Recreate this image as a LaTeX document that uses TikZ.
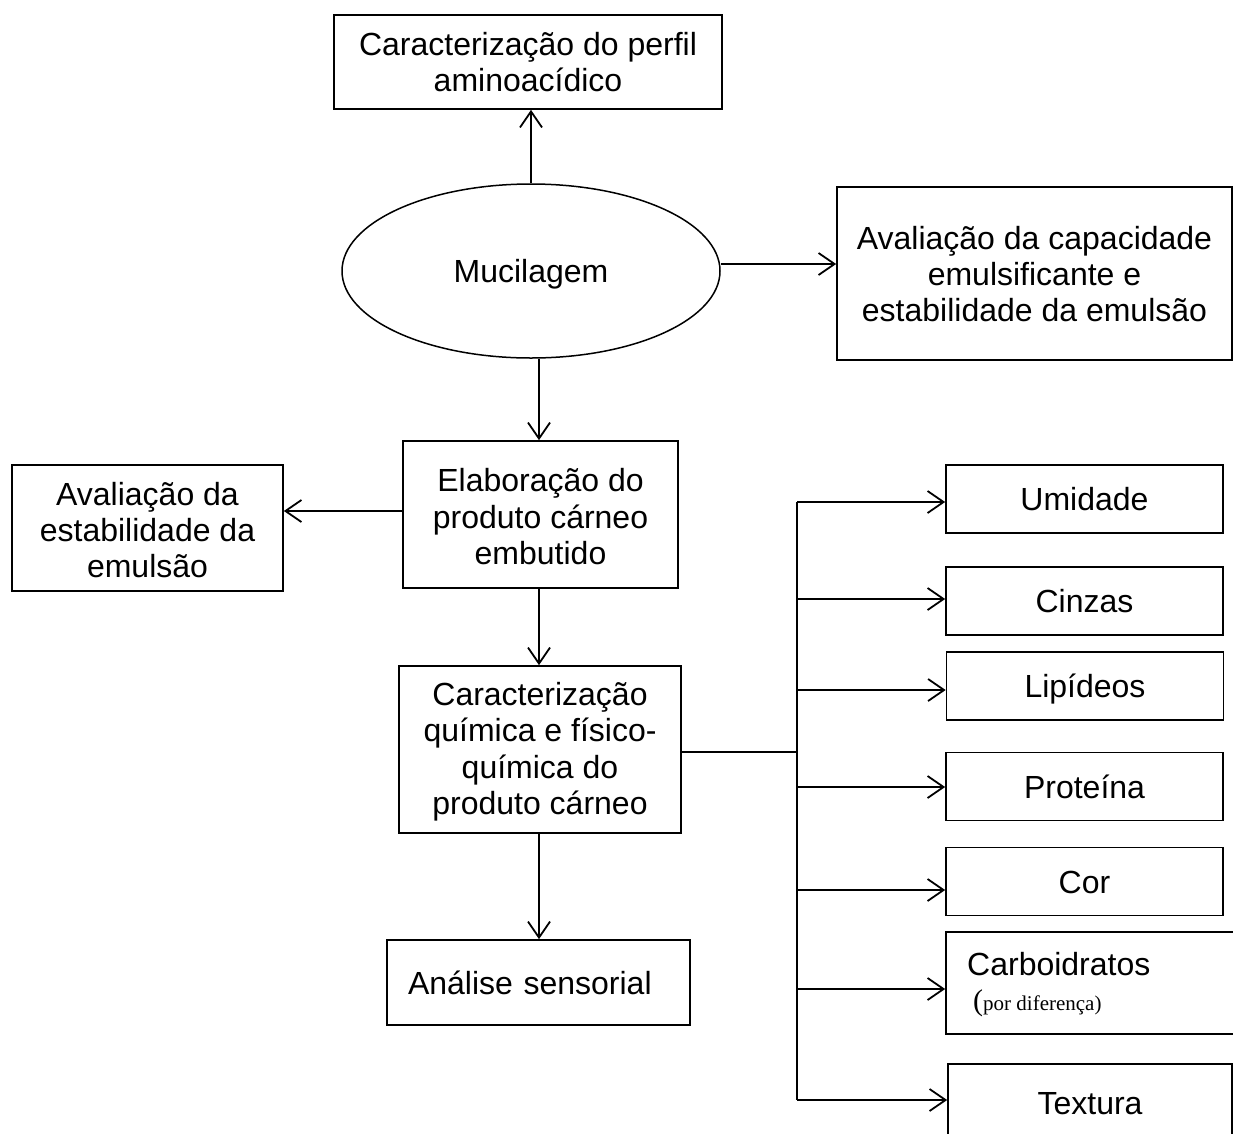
\documentclass[tikz,border=0pt]{standalone}
\usepackage{fontspec}
\setmainfont{Liberation Sans}
\newfontfamily\timesfont{Liberation Serif}
\usetikzlibrary{arrows.meta,shapes.geometric}
\begin{document}
\begin{tikzpicture}[x=1pt,y=-1pt,
  txt/.style={font=\fontsize{32}{36}\selectfont},
  mtxt/.style={txt, align=center, inner sep=0pt},
  frame/.style={draw, line width=1.7pt, inner sep=0pt},
  box/.style={frame, align=center, txt},
  rbox/.style={box, minimum width=277pt, minimum height=68pt, text height=23pt, text depth=0pt},
  arr/.style={line width=1.8pt, -{Straight Barb[length=16pt,width=22pt,line width=1.8pt]}},
  ln/.style={line width=1.8pt}]
\useasboundingbox (0,0) rectangle (1233,1133);
\clip (0,0) rectangle (1233,1133);

% boxes
\node[frame, minimum width=388pt, minimum height=94pt] (perfil) at (528,62) {};
\node[mtxt] (perfilt) at (perfil.center) {Caracterização do perfil\\aminoacídico};

\node[draw, ellipse, line width=1.5pt, minimum width=378pt, minimum height=174pt, inner sep=0pt, txt, text height=23pt, text depth=0pt] (muc) at (531,271) {Mucilagem};

\node[frame, minimum width=395pt, minimum height=173pt] (emul) at (1034.5,273.5) {};
\node[mtxt] (emult) at ([yshift=-1pt]emul.center) {Avaliação da capacidade\\emulsificante e\\estabilidade da emulsão};

\node[frame, minimum width=275pt, minimum height=147pt] (elab) at (540.5,514.5) {};
\node[mtxt, font=\fontsize{32}{36.5}\selectfont] (elabt) at ([yshift=-2.5pt]elab.center) {Elaboração do\\produto cárneo\\embutido};

\node[frame, minimum width=271pt, minimum height=126pt] (estab) at (147.5,528) {};
\node[mtxt] (estabt) at ([yshift=-2pt]estab.center) {Avaliação da\\estabilidade da\\emulsão};

\node[frame, minimum width=282pt, minimum height=167pt] (quim) at (540,749.5) {};
\node[mtxt, font=\fontsize{32}{36.5}\selectfont] (quimt) at ([yshift=-2pt]quim.center) {Caracterização\\química e físico-\\química do\\produto cárneo};

\node[box, minimum width=303pt, minimum height=85pt, text width=261pt, align=left, inner xsep=21pt] (sens) at (538.5,982.5) {Análise sensorial};

\node[rbox] (umid) at (1084.5,499) {Umidade};
\node[rbox] (cinz) at (1084.5,601) {Cinzas};
\node[rbox] (lip) at (1085,686) {Lipídeos};
\node[rbox] (prot) at (1084.5,786.5) {Proteína};
\node[rbox] (cor) at (1084.5,881.5) {Cor};
\node[frame, minimum width=314pt, minimum height=102pt] (carb) at (1103,983) {};
\node[txt, anchor=base west, inner sep=0pt] (carbt) at (967,975.5) {Carboidratos};
\node[anchor=base west, inner sep=0pt] (carbs) at (973,1010) {\timesfont\fontsize{30}{30}\selectfont(\fontsize{21}{24}\selectfont por diferença)};
\node[rbox, minimum width=284pt, minimum height=78pt] (text) at (1090,1103) {Textura};

% connectors
\draw[arr] (muc.north) -- (perfil.south -| muc.north);
\draw[arr] ([yshift=7pt]muc.east) -- ([yshift=7pt]muc.east -| emul.west);
\draw[arr] ([xshift=8pt]muc.south) -- ([xshift=8pt]muc.south |- elab.north);
\draw[arr] ([yshift=3.5pt]elab.west) -- ([yshift=3.5pt]elab.west -| estab.east);
\draw[arr] ([xshift=-1.5pt]elab.south) -- ([xshift=-1.5pt]elab.south |- quim.north);
\draw[arr] ([xshift=-1pt]quim.south) -- ([xshift=-1pt]quim.south |- sens.north);

\coordinate (bj) at (797,752);
\coordinate (b1) at (797,502);
\coordinate (b2) at (797,599);
\coordinate (b3) at (797,690);
\coordinate (b4) at (797,787);
\coordinate (b5) at (797,890);
\coordinate (b6) at (797,989);
\coordinate (b7) at (797,1100);
\draw[ln] (quim.east |- bj) -- (bj);
\draw[ln] (b1) -- (b7);
\draw[arr] (b1) -- (b1 -| umid.west);
\draw[arr] (b2) -- (b2 -| cinz.west);
\draw[arr] (b3) -- (b3 -| lip.west);
\draw[arr] (b4) -- (b4 -| prot.west);
\draw[arr] (b5) -- (b5 -| cor.west);
\draw[arr] (b6) -- (b6 -| carb.west);
\draw[arr] (b7) -- (b7 -| text.west);
\end{tikzpicture}
\end{document}
